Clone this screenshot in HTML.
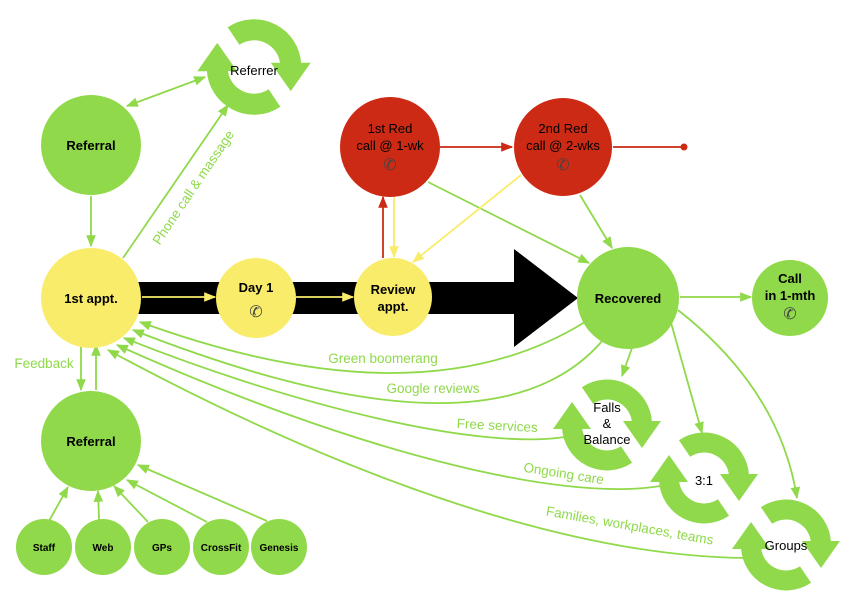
<!DOCTYPE html>
<html><head><meta charset="utf-8"><style>
html,body{margin:0;padding:0;background:#fff}
svg{display:block}
text{font-family:"Liberation Sans",Arial,sans-serif}
</style></head><body>
<svg width="841" height="595" viewBox="0 0 841 595" xmlns="http://www.w3.org/2000/svg">
<defs>
<marker id="ag2" viewBox="0 0 10 10" refX="9" refY="5" markerWidth="12" markerHeight="12" orient="auto-start-reverse" markerUnits="userSpaceOnUse"><path d="M0,1 L10,5 L0,9 z" fill="#8fd94a"/></marker>
<marker id="ay" viewBox="0 0 10 10" refX="9" refY="5" markerWidth="12" markerHeight="12" orient="auto" markerUnits="userSpaceOnUse"><path d="M0,1 L10,5 L0,9 z" fill="#f9ec6a"/></marker>
<marker id="ar" viewBox="0 0 10 10" refX="9" refY="5" markerWidth="12" markerHeight="12" orient="auto" markerUnits="userSpaceOnUse"><path d="M0,1 L10,5 L0,9 z" fill="#cc2a14"/></marker>
<g id="cyc">
<path d="M-19.5,-29.5 A35,35 0 0 1 35,-2" fill="none" stroke="#8fd94a" stroke-width="20"/>
<path d="M16,-4 L54,-4 L35,23 z" fill="#8fd94a"/>
<path d="M19.5,29.5 A35,35 0 0 1 -35,2" fill="none" stroke="#8fd94a" stroke-width="20"/>
<path d="M-16,4 L-54,4 L-35,-23 z" fill="#8fd94a"/>
</g>
</defs>

<path d="M138,282 L514,282 L514,249 L578,298 L514,347 L514,314 L138,314 z" fill="#000"/>

<use href="#cyc" transform="translate(254,67) scale(1.05)"/>
<use href="#cyc" transform="translate(607,425)"/>
<use href="#cyc" transform="translate(704,478)"/>
<use href="#cyc" transform="translate(786,545)"/>

<g fill="none" stroke-width="1.8">
<g stroke="#8fd94a">
<line x1="205" y1="77" x2="127" y2="106" marker-end="url(#ag2)" marker-start="url(#ag2)"/>
<line x1="123" y1="258" x2="228" y2="105" marker-end="url(#ag2)"/>
<line x1="91" y1="196" x2="91" y2="246" marker-end="url(#ag2)"/>
<line x1="81" y1="345" x2="81" y2="390" marker-end="url(#ag2)"/>
<line x1="96" y1="390" x2="96" y2="345" marker-end="url(#ag2)"/>
<line x1="49" y1="521" x2="68" y2="487" marker-end="url(#ag2)"/>
<line x1="99" y1="520" x2="98" y2="491" marker-end="url(#ag2)"/>
<line x1="148" y1="522" x2="114" y2="486" marker-end="url(#ag2)"/>
<line x1="207" y1="522" x2="127" y2="480" marker-end="url(#ag2)"/>
<line x1="267" y1="521" x2="138" y2="465" marker-end="url(#ag2)"/>
<line x1="428" y1="182" x2="589" y2="263" marker-end="url(#ag2)"/>
<line x1="580" y1="195" x2="612" y2="248" marker-end="url(#ag2)"/>
<line x1="680" y1="297" x2="751" y2="297" marker-end="url(#ag2)"/>
<line x1="632" y1="348" x2="622" y2="376" marker-end="url(#ag2)"/>
<line x1="668" y1="312" x2="702" y2="433" marker-end="url(#ag2)"/>
<path d="M678,310 Q780,390 797,498" marker-end="url(#ag2)"/>
<path d="M585,322 Q420,424 140,322" marker-end="url(#ag2)"/>
<path d="M603,340 Q492,471 133,330" marker-end="url(#ag2)"/>
<path d="M565,437 C480,450 300,408 124,338" marker-end="url(#ag2)"/>
<path d="M660,486 C560,503 350,450 117,345" marker-end="url(#ag2)"/>
<path d="M745,558 C560,556 330,470 108,350" marker-end="url(#ag2)"/>
</g>
<g stroke="#f9ec6a">
<line x1="142" y1="297" x2="215" y2="297" marker-end="url(#ay)"/>
<line x1="296" y1="297" x2="353" y2="297" marker-end="url(#ay)"/>
<line x1="394" y1="197" x2="394" y2="257" marker-end="url(#ay)"/>
<line x1="521" y1="175" x2="413" y2="262" marker-end="url(#ay)"/>
</g>
<g stroke="#cc2a14">
<line x1="383" y1="258" x2="383" y2="197" marker-end="url(#ar)"/>
<line x1="440" y1="147" x2="512" y2="147" marker-end="url(#ar)"/>
<line x1="613" y1="147" x2="683" y2="147"/>
</g>
</g>
<circle cx="684" cy="147" r="3.5" fill="#cc2a14"/>

<g fill="#8fd94a">
<circle cx="91" cy="145" r="50"/>
<circle cx="628" cy="298" r="51"/>
<circle cx="790" cy="298" r="38"/>
<circle cx="91" cy="441" r="50"/>
<circle cx="44" cy="547" r="28"/>
<circle cx="103" cy="547" r="28"/>
<circle cx="162" cy="547" r="28"/>
<circle cx="221" cy="547" r="28"/>
<circle cx="279" cy="547" r="28"/>
</g>
<g fill="#f9ec6a">
<circle cx="91" cy="298" r="50"/>
<circle cx="256" cy="298" r="40"/>
<circle cx="393" cy="297" r="39"/>
</g>
<g fill="#cc2a14">
<circle cx="390" cy="147" r="50"/>
<circle cx="563" cy="147" r="49"/>
</g>

<g font-size="13" fill="#000" text-anchor="middle">
<text x="254" y="75">Referrer</text>
<text x="91" y="150" font-weight="bold">Referral</text>
<text x="91" y="303" font-weight="bold">1st appt.</text>
<text x="256" y="292" font-weight="bold">Day 1</text>
<text x="393" y="294" font-weight="bold">Review</text>
<text x="393" y="311" font-weight="bold">appt.</text>
<text x="390" y="133">1st Red</text>
<text x="390" y="150">call @ 1-wk</text>
<text x="563" y="133">2nd Red</text>
<text x="563" y="150">call @ 2-wks</text>
<text x="628" y="303" font-weight="bold">Recovered</text>
<text x="790" y="283" font-weight="bold">Call</text>
<text x="790" y="300" font-weight="bold">in 1-mth</text>
<text x="91" y="446" font-weight="bold">Referral</text>
<text x="607" y="412">Falls</text>
<text x="607" y="428">&amp;</text>
<text x="607" y="444">Balance</text>
<text x="704" y="485">3:1</text>
<text x="786" y="550">Groups</text>
</g>
<g font-size="10" font-weight="bold" text-anchor="middle" fill="#000">
<text x="44" y="551">Staff</text>
<text x="103" y="551">Web</text>
<text x="162" y="551">GPs</text>
<text x="221" y="551">CrossFit</text>
<text x="279" y="551">Genesis</text>
</g>
<g font-size="16" fill="#444" text-anchor="middle">
<text x="256" y="317">✆</text>
<text x="390" y="170">✆</text>
<text x="563" y="170">✆</text>
<text x="790" y="319">✆</text>
</g>
<g font-size="13.5" fill="#8fd94a" text-anchor="middle">
<text x="44" y="368">Feedback</text>
<text transform="translate(197,190) rotate(-56)">Phone call &amp; massage</text>
<text x="383" y="363">Green boomerang</text>
<text x="433" y="393">Google reviews</text>
<text transform="translate(497,430) rotate(3)">Free services</text>
<text transform="translate(563,478) rotate(9)">Ongoing care</text>
<text transform="translate(629,530) rotate(10)">Families, workplaces, teams</text>
</g>
</svg>
</body></html>
